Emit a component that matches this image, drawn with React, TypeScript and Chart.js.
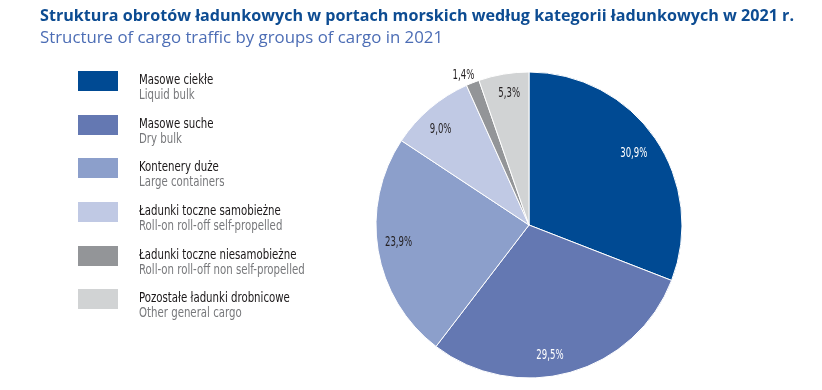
import React, { useEffect, useRef } from "react";
import { Chart, registerables } from "chart.js";

Chart.register(...registerables);

const titlePl = "Struktura obrotów ładunkowych w portach morskich według kategorii ładunkowych w 2021 r.";
const titleEn = "Structure of cargo traffic by groups of cargo in 2021";

const categoriesPl = [
  "Masowe ciekłe",
  "Masowe suche",
  "Kontenery duże",
  "Ładunki toczne samobieżne",
  "Ładunki toczne niesamobieżne",
  "Pozostałe ładunki drobnicowe",
];
const categoriesEn = [
  "Liquid bulk",
  "Dry bulk",
  "Large containers",
  "Roll-on roll-off self-propelled",
  "Roll-on roll-off non self-propelled",
  "Other general cargo",
];
const shares = [30.9, 29.5, 23.9, 9.0, 1.4, 5.3];
const shareLabels = ["30,9%", "29,5%", "23,9%", "9,0%", "1,4%", "5,3%"];

const colors = ["#004A93", "#6478B2", "#8C9FCB", "#C0C9E4", "#939598", "#D1D3D4"];
const labelColors = ["#FFFFFF", "#FFFFFF", "#231F20", "#231F20", "#231F20", "#231F20"];
const labelRadius = [0.83, 0.86, 0.86, 0.85, 1.07, 0.87];
const labelAngleShift = [0, 6.5, 2, -2.5, -2, 1];

const condensed = '"Liberation Sans Narrow", "DejaVu Sans Condensed", "Liberation Sans", sans-serif';

const labelPlugin = {
  id: "sliceLabels",
  afterDatasetsDraw(chart: any) {
    const ctx = chart.ctx;
    const meta = chart.getDatasetMeta(0);
    meta.data.forEach((arc: any, i: number) => {
      const p = arc.getProps(["x", "y", "startAngle", "endAngle", "outerRadius"], true);
      const mid = (p.startAngle + p.endAngle) / 2 + (labelAngleShift[i] * Math.PI) / 180;
      const r = p.outerRadius * labelRadius[i];
      ctx.save();
      ctx.font = `14px ${condensed}`;
      ctx.textAlign = "center";
      ctx.textBaseline = "middle";
      ctx.fillStyle = labelColors[i];
      ctx.translate(p.x + r * Math.cos(mid), p.y + r * Math.sin(mid));
      ctx.scale(0.68, 1);
      ctx.fillText(shareLabels[i], 0, 0);
      ctx.restore();
    });
  },
};

const legendTops = [71, 115, 158, 202, 246, 289];

export default function App() {
  const canvasRef = useRef<HTMLCanvasElement | null>(null);

  useEffect(() => {
    if (!canvasRef.current) return;
    const chart = new Chart(canvasRef.current, {
      type: "pie",
      data: {
        labels: categoriesPl,
        datasets: [
          {
            data: shares,
            backgroundColor: colors,
            borderColor: "#FFFFFF",
            borderWidth: 1,
            hoverOffset: 0,
          },
        ],
      },
      options: {
        responsive: false,
        animation: false,
        radius: 153,
        layout: { padding: { left: 376, right: 140, top: 72, bottom: 12 } },
        plugins: {
          legend: { display: false },
          tooltip: { enabled: false },
          title: { display: false },
        },
      } as any,
      plugins: [labelPlugin],
    });
    return () => chart.destroy();
  }, []);

  return (
    <div
      style={{
        position: "fixed",
        left: 0,
        top: 0,
        width: 822,
        height: 390,
        background: "#FFFFFF",
        overflow: "hidden",
      }}
    >
      <canvas
        ref={canvasRef}
        width={822}
        height={390}
        style={{ position: "absolute", left: 0, top: 0, display: "block" }}
      />
      <svg
        width={822}
        height={390}
        style={{ position: "absolute", left: 0, top: 0, pointerEvents: "none" }}
      >
        <text
          x={40}
          y={21}
          fill="#0D4C92"
          fontFamily='"Open Sans", sans-serif'
          fontWeight={700}
          fontSize={16.5}
          textLength={754}
          lengthAdjust="spacingAndGlyphs"
        >
          {titlePl}
        </text>
        <text
          x={40}
          y={43}
          fill="#4C6DB5"
          fontFamily='"Open Sans", sans-serif'
          fontSize={16.5}
          textLength={403}
          lengthAdjust="spacingAndGlyphs"
        >
          {titleEn}
        </text>
        {categoriesPl.map((c, i) => (
          <g key={c}>
            <rect x={78} y={legendTops[i]} width={40} height={20} fill={colors[i]} />
            <text
              transform={`translate(139 ${legendTops[i] + 12.5}) scale(0.84 1)`}
              fill="#1A1718"
              fontFamily={condensed}
              fontWeight={500}
              fontSize={13.5}
            >
              {c}
            </text>
            <text
              transform={`translate(139 ${legendTops[i] + 27.5}) scale(0.84 1)`}
              fill="#77787B"
              fontFamily={condensed}
              fontSize={13.5}
            >
              {categoriesEn[i]}
            </text>
          </g>
        ))}
      </svg>
    </div>
  );
}
